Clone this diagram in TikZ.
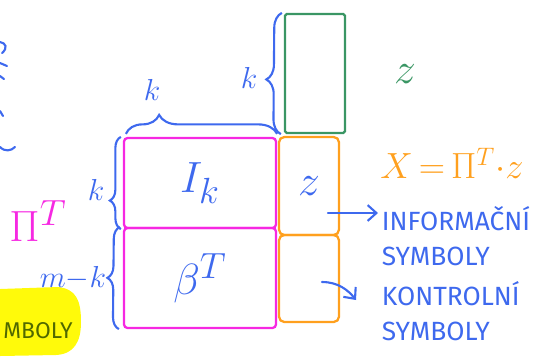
\documentclass[tikz,border=0pt]{standalone}
\usepackage{fontspec}
\setmainfont{Fira Sans}
\usetikzlibrary{positioning,decorations.pathreplacing,arrows.meta}
\definecolor{penblue}{RGB}{62,105,238}
\definecolor{penmag}{RGB}{246,40,226}
\definecolor{pengreen}{RGB}{58,150,100}
\definecolor{penorange}{RGB}{255,160,30}
\definecolor{penyellow}{RGB}{255,250,10}
\definecolor{penolive}{RGB}{80,105,0}

\begin{document}
\begin{tikzpicture}[x=0.02cm, y=-0.02cm,
        magbox/.style={rectangle, draw=penmag, line width=1.3pt, rounded corners=2pt, inner sep=0pt, minimum width=3.04cm, text=penblue, font=\fontsize{28}{30}\selectfont},
        orbox/.style={rectangle, draw=penorange, line width=1.3pt, rounded corners=3pt, inner sep=0pt, minimum width=1.2cm, text=penblue, font=\fontsize{30}{32}\selectfont},
        grbox/.style={rectangle, draw=pengreen, line width=1.3pt, rounded corners=1pt, inner sep=0pt, minimum width=1.2cm, minimum height=2.38cm},
        brc/.style={decorate, draw=penblue, line width=1.2pt},
        lbl/.style={text=penblue, font=\fontsize{18}{20}\selectfont},
        note/.style={text=penblue, align=left, inner sep=2pt, font=\fontsize{15}{20}\selectfont},
        arr/.style={-{Straight Barb[length=5pt,width=9pt]}, draw=penblue, line width=1.2pt, line cap=round},
        pen/.style={draw=penblue, line width=1.2pt, line cap=round}
    ]
    \useasboundingbox (0,0) rectangle (542,360);
    \clip (0,0) rectangle (542,360);

    % highlighted leftover on the left
    \fill[penyellow] (0,289) -- (58,287) .. controls (76,289) and (81,300) .. (81,322)
        .. controls (81,342) and (74,354) .. (56,355) -- (0,356) -- cycle;
    \node[text=penolive, anchor=west, inner sep=0pt, font=\fontsize{13}{16}\selectfont] (oldlbl) at (3,331) {MBOLY};

    % cut-off strokes at the left edge
    \draw[pen] (0,42) .. controls (6,43) and (8,48) .. (2,53);
    \draw[pen] (0,63) -- (7,66);
    \draw[pen] (0,76) -- (4,79);
    \draw[pen] (0,111) -- (3,116);
    \draw[pen] (0,147) .. controls (5,152) and (11,151) .. (15,147);

    % matrices
    \node[magbox, minimum height=1.8cm] (Ik) at (200,183) {$I_k$};
    \node[magbox, minimum height=2.0cm] (betaT) at (200,278) {$\beta^T$};
    \node[grbox] (zvec) at (315,73.5) {};
    \node[orbox, minimum height=1.96cm] (ztop) at (309,186) {$z$};
    \node[orbox, minimum height=1.74cm] (zbot) at (309,278.5) {};

    % braces
    \draw[brc, decoration={brace, amplitude=0.38cm, aspect=0.22}] ([xshift=0.06cm, yshift=0.06cm]Ik.north west) -- ([yshift=0.06cm]Ik.north east);
    \draw[brc, decoration={brace, amplitude=0.3cm, aspect=0.45}] ([xshift=-0.06cm]zvec.south west) -- ([xshift=-0.04cm]zvec.north west);
    \draw[brc, decoration={brace, amplitude=0.22cm, aspect=0.31}] ([xshift=-0.04cm]Ik.south west) -- ([xshift=-0.04cm]Ik.north west);
    \draw[brc, decoration={brace, amplitude=0.24cm, aspect=0.5}] ([xshift=-0.08cm]betaT.south west) -- ([xshift=-0.06cm]betaT.north west);
    \node[lbl] (ktop) at (152,90) {$k$};
    \node[lbl] (kright) at (249,78) {$k$};
    \node[lbl] (kleft) at (96,190) {$k$};
    \node[lbl, font=\fontsize{16}{18}\selectfont] (mk) at (73,278) {$m{-}k$};

    % labels and formula
    \node[text=penmag, font=\fontsize{28}{30}\selectfont] (PiT) at (38,221) {$\Pi^T$};
    \node[text=pengreen, font=\fontsize{32}{34}\selectfont] (zname) at (405,74) {$z$};
    \node[text=penorange, anchor=west, inner sep=0pt, font=\fontsize{21}{24}\selectfont] (Xeq) at (380,163) {$X\,{=}\,\Pi^T{\cdot}z$};

    \node[note, anchor=west] (info) at (378,236) {INFORMAČNÍ\\SYMBOLY};
    \node[note, anchor=west] (kontr) at (378,311) {KONTROLNÍ\\SYMBOLY};

    \coordinate (a1) at (328,213);
    \coordinate (a2) at (322,282);
    \coordinate (a2end) at (356,300);
    \draw[arr] (a1) -- (a1 -| info.west);
    \draw[arr] (a2) .. controls (338,282) and (348,290) .. (a2end);
\end{tikzpicture}
\end{document}
